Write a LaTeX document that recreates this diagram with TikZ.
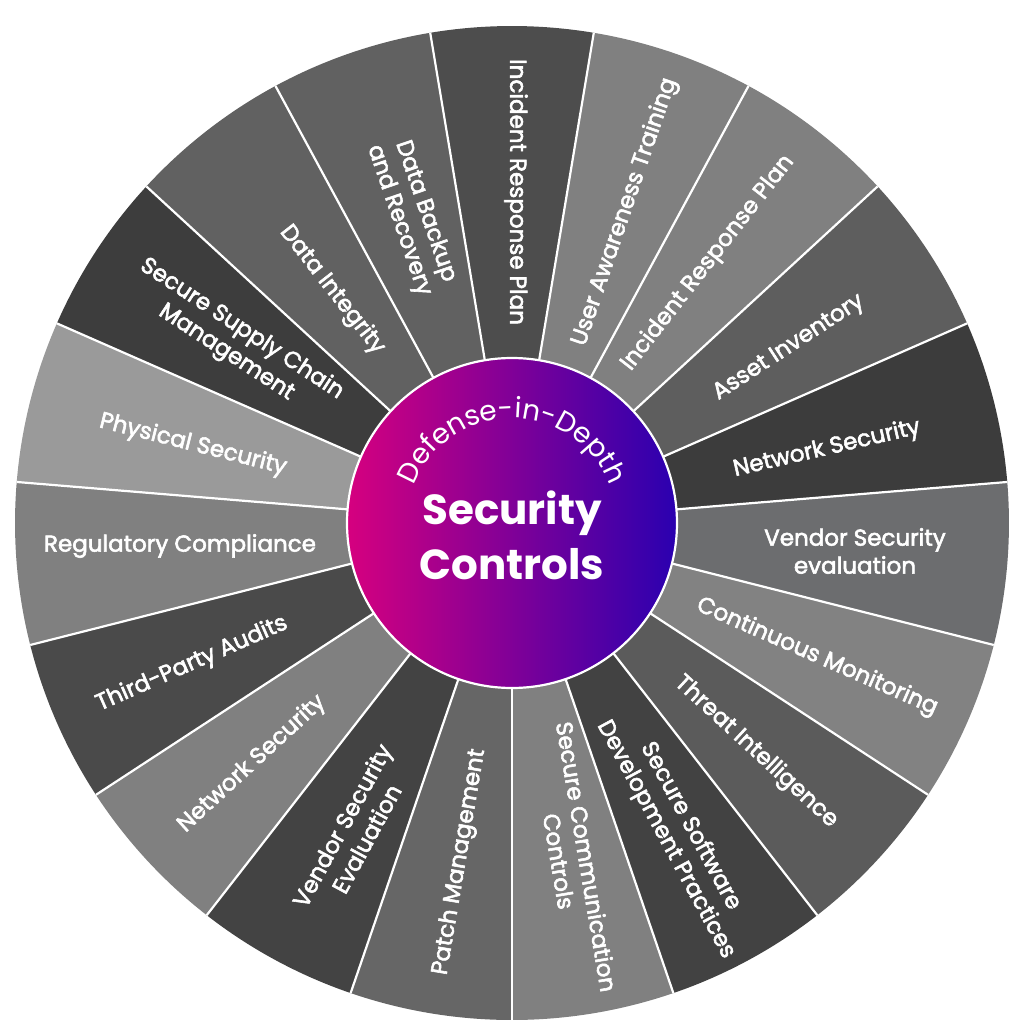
\documentclass[tikz,border=0pt]{standalone}
\usepackage{fontspec}
\setmainfont{Poppins}
\newfontfamily\labfont{Poppins}[FakeBold=2.5]
\usetikzlibrary{decorations.text}
\definecolor{s0}{HTML}{4D4D4D}
\definecolor{s1}{HTML}{808080}
\definecolor{s2}{HTML}{808080}
\definecolor{s3}{HTML}{5E5E5E}
\definecolor{s4}{HTML}{3C3C3C}
\definecolor{s5}{HTML}{6C6D6F}
\definecolor{s6}{HTML}{828282}
\definecolor{s7}{HTML}{5B5B5B}
\definecolor{s8}{HTML}{424242}
\definecolor{s9}{HTML}{808080}
\definecolor{s10}{HTML}{666666}
\definecolor{s11}{HTML}{434343}
\definecolor{s12}{HTML}{808080}
\definecolor{s13}{HTML}{4A4A4A}
\definecolor{s14}{HTML}{808080}
\definecolor{s15}{HTML}{9A9A9A}
\definecolor{s16}{HTML}{3D3D3D}
\definecolor{s17}{HTML}{616161}
\definecolor{s18}{HTML}{616161}
\definecolor{hubL}{HTML}{D6007F}
\definecolor{hubR}{HTML}{2A00B0}
\tikzset{
  lab/.style={text=white, font=\labfont\fontsize{11.5}{14}\selectfont, align=center, inner sep=0pt},
  sep/.style={draw=white, line width=1.1pt},
}
\begin{document}
\begin{tikzpicture}[x=0.5pt,y=0.5pt]
\useasboundingbox (-512,-501) rectangle (512,523);
\fill[white] (-512,-501) rectangle (512,523);
% sectors
\foreach \i in {0,...,18}{
  \pgfmathsetmacro\ca{90-18.947368*\i}
  \pgfmathsetmacro\sa{\ca+9.473684}
  \pgfmathsetmacro\ea{\ca-9.473684}
  \fill[s\i] (0,0) -- (\sa:497) arc (\sa:\ea:497) -- cycle;
}
% separators
\foreach \i in {0,...,18}{
  \pgfmathsetmacro\ba{99.473684-18.947368*\i}
  \draw[sep] (\ba:160) -- (\ba:497);
}
% hub
\path[draw=white, line width=1.1pt, left color=hubL, right color=hubR] (0,0) circle (165);
\path[decorate, decoration={text along path, text align=center,
  text={|\fontsize{14}{14}\selectfont\color{white}|Defense-in-Depth}}]
  (175:105) arc (175:5:105);
\node[text=white, font=\fontsize{21}{27.5}\selectfont\bfseries, align=center, inner sep=0pt] (hub) at (0,-12) {Security\\Controls};
% labels
\node[lab, rotate=-90] (t1) at (4,331) {Incident Response Plan};
\node[lab, rotate=71.05] (t2) at (113,311) {User Awareness Training};
\node[lab, rotate=52.1] (t3) at (196,260) {Incident Response Plan};
\node[lab, rotate=33.16] (t4) at (277,175) {Asset Inventory};
\node[lab, rotate=13] (t5) at (315,74) {Network Security};
\node[lab] (t6) at (343,-28) {Vendor Security\\evaluation};
\node[lab, rotate=-23.7] (t7) at (305,-134) {Continuous Monitoring};
\node[lab, rotate=-42.6] (t8) at (244,-229) {Threat Intelligence};
\node[lab, rotate=-61.6] (t9) at (166,-310) {Secure Software\\Development Practices};
\node[lab, rotate=-80.5] (t10) at (61,-336) {Secure Communication\\Controls};
\node[lab, rotate=80.5] (t11) at (-52,-339) {Patch Management};
\node[lab, rotate=61.6] (t12) at (-158,-309) {Vendor Security\\Evaluation};
\node[lab, rotate=42.6] (t13) at (-260,-241) {Network Security};
\node[lab, rotate=23.7] (t14) at (-320,-141) {Third-Party Audits};
\node[lab] (t15) at (-332,-23) {Regulatory Compliance};
\node[lab, rotate=-14.2] (t16) at (-319,78) {Physical Security};
\node[lab, rotate=-33.2] (t17) at (-278,182) {Secure Supply Chain\\Management};
\node[lab, rotate=-52.1] (t18) at (-180,233) {Data Integrity};
\node[lab, rotate=-71.1] (t19) at (-100,307) {Data Backup\\and Recovery};
\end{tikzpicture}
\end{document}
